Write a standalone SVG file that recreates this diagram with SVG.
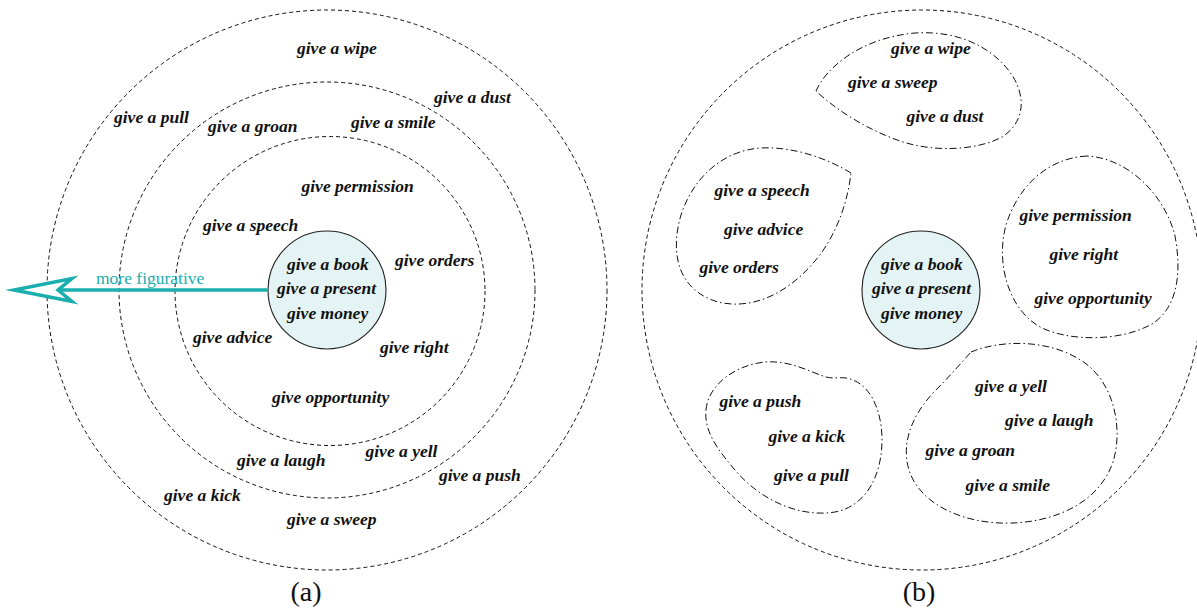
<svg xmlns="http://www.w3.org/2000/svg" width="1197" height="613" viewBox="0 0 1197 613">
<style>
.lbl{font-family:"Liberation Serif","Times New Roman",serif;font-weight:bold;font-style:italic;font-size:17.5px;fill:#111}
.cap{font-family:"Liberation Serif","Times New Roman",serif;font-size:28px;fill:#111}
.ring{fill:none;stroke:#111;stroke-width:1;stroke-dasharray:4 3}
.blob{fill:none;stroke:#111;stroke-width:1;stroke-dasharray:7 3 1.5 3}
.core{fill:#E4F3F3;stroke:#222;stroke-width:1.1}
.fig{font-family:"Liberation Serif","Times New Roman",serif;font-size:17.5px;fill:#1AAEAE}
</style>
<defs>
<marker id="openArrow" markerUnits="userSpaceOnUse" orient="auto" refX="0" refY="0" markerWidth="80" markerHeight="40" overflow="visible">
<polygon points="44,0 -14,-11.5 0,0 -14,11.5" fill="#fff" stroke="#1AAEAE" stroke-width="3.5" stroke-miterlimit="12"/>
</marker>
</defs>
<rect width="1197" height="613" fill="#fff"/>

<!-- Panel (a) -->
<g id="a-ring-outer"><circle class="ring" cx="327" cy="290" r="280"/></g>
<g id="a-ring-middle"><circle class="ring" cx="327" cy="290" r="208"/></g>
<g id="a-ring-inner"><ellipse class="ring" cx="330" cy="291" rx="155" ry="154.5"/></g>

<g id="connectors">
<line x1="267" y1="290" x2="58" y2="290" stroke="#1AAEAE" stroke-width="3.5" marker-end="url(#openArrow)"/>
<text class="fig" x="96" y="284">more figurative</text>
</g>

<g id="a-core">
<circle class="core" cx="327" cy="290" r="59"/>
<text class="lbl" x="287" y="270">give a book</text>
<text class="lbl" x="277" y="294">give a present</text>
<text class="lbl" x="287" y="318.5">give money</text>
</g>

<g id="a-labels">
<text class="lbl" x="297" y="53.5">give a wipe</text>
<text class="lbl" x="434" y="102.5">give a dust</text>
<text class="lbl" x="114" y="122.5">give a pull</text>
<text class="lbl" x="208" y="132">give a groan</text>
<text class="lbl" x="351" y="128">give a smile</text>
<text class="lbl" x="301.5" y="191.5">give permission</text>
<text class="lbl" x="203" y="230.5">give a speech</text>
<text class="lbl" x="395" y="266">give orders</text>
<text class="lbl" x="193" y="343">give advice</text>
<text class="lbl" x="380" y="352.5">give right</text>
<text class="lbl" x="272" y="402.5">give opportunity</text>
<text class="lbl" x="237" y="466">give a laugh</text>
<text class="lbl" x="365.5" y="456.5">give a yell</text>
<text class="lbl" x="439" y="481">give a push</text>
<text class="lbl" x="164" y="501">give a kick</text>
<text class="lbl" x="287" y="524.5">give a sweep</text>
</g>
<text class="cap" x="306" y="601" text-anchor="middle">(a)</text>

<!-- Panel (b) -->
<g id="b-ring"><circle class="ring" cx="922" cy="290" r="280"/></g>

<g id="b-core">
<circle class="core" cx="921" cy="290" r="59"/>
<text class="lbl" x="881" y="270">give a book</text>
<text class="lbl" x="872" y="294">give a present</text>
<text class="lbl" x="881" y="318.5">give money</text>
</g>

<g id="b-cluster-wipe">
<path class="blob" d="M816,91 C826,68 860,38 915,33 C962,30 995,50 1012,75 C1026,97 1025,122 1002,137 C978,150 935,153 900,141 C868,130 836,110 816,91 Z"/>
<text class="lbl" x="891" y="53.5">give a wipe</text>
<text class="lbl" x="848" y="88">give a sweep</text>
<text class="lbl" x="906.5" y="122">give a dust</text>
</g>

<g id="b-cluster-speech">
<path class="blob" d="M851,173 C830,160 795,146 760,148 C722,151 693,178 681,215 C670,252 677,290 718,302 C760,312 798,285 822,252 C840,226 848,198 851,173 Z"/>
<text class="lbl" x="714.5" y="195.5">give a speech</text>
<text class="lbl" x="724" y="234.5">give advice</text>
<text class="lbl" x="699.5" y="272.5">give orders</text>
</g>

<g id="b-cluster-permission">
<path class="blob" d="M1087,156 C1048,158 1018,186 1006,225 C995,265 1010,312 1042,328 C1072,342 1122,341 1152,324 C1180,306 1181,268 1175,236 C1166,198 1130,158 1087,156 Z"/>
<text class="lbl" x="1019.5" y="220.5">give permission</text>
<text class="lbl" x="1049.5" y="259.5">give right</text>
<text class="lbl" x="1034.5" y="304">give opportunity</text>
</g>

<g id="b-cluster-push">
<path class="blob" d="M706,410 C708,385 735,365 765,362 C790,360 810,372 826,377 C833,379 838,377 846,378 C870,382 882,410 882,440 C882,470 870,505 835,512 C800,518 760,500 735,470 C716,448 704,430 706,410 Z"/>
<text class="lbl" x="719.5" y="406.5">give a push</text>
<text class="lbl" x="768.5" y="442">give a kick</text>
<text class="lbl" x="774" y="480.5">give a pull</text>
</g>

<g id="b-cluster-yell">
<path class="blob" d="M971,352 C1000,340 1050,338 1085,363 C1115,385 1123,430 1113,462 C1100,500 1060,521 1013,523 C965,525 920,505 909,470 C900,440 915,412 934,392 C950,376 962,362 971,352 Z"/>
<text class="lbl" x="975" y="391.5">give a yell</text>
<text class="lbl" x="1005" y="426">give a laugh</text>
<text class="lbl" x="925.5" y="456">give a groan</text>
<text class="lbl" x="965.5" y="490.5">give a smile</text>
</g>
<text class="cap" x="919" y="601" text-anchor="middle">(b)</text>
</svg>
